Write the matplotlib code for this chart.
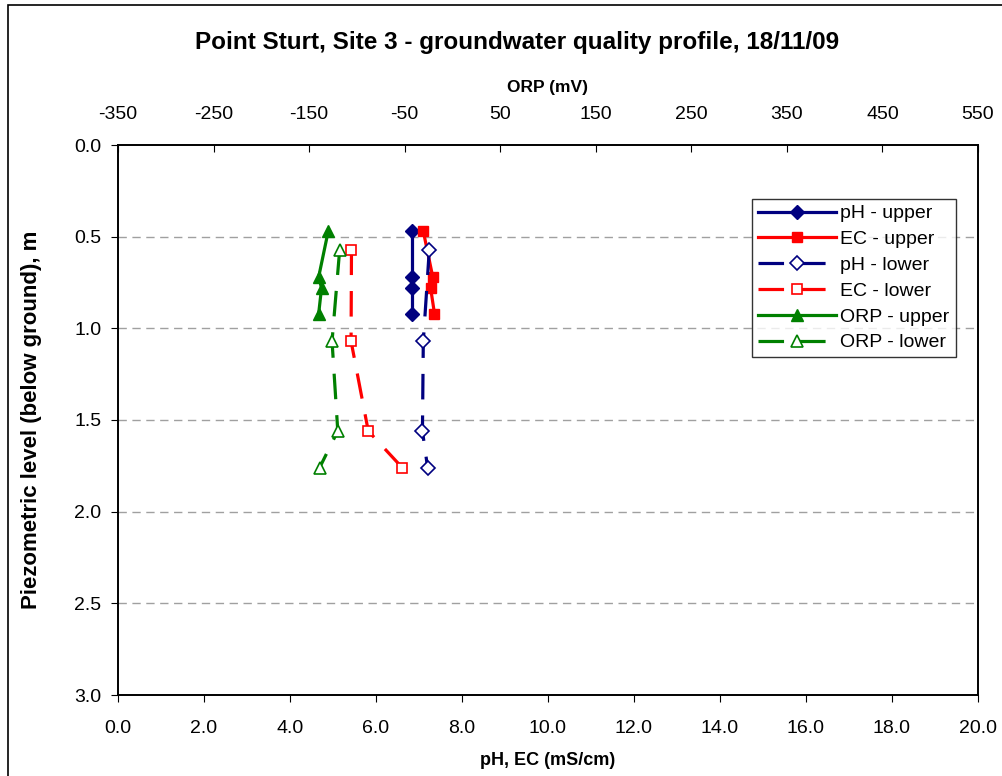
import matplotlib
matplotlib.use("Agg")
import matplotlib.pyplot as plt
from matplotlib.patches import Rectangle

plt.rcParams['font.family'] = ['Liberation Sans', 'DejaVu Sans']

# Data
depth_upper = [0.47, 0.72, 0.78, 0.92]
depth_lower = [0.57, 1.07, 1.56, 1.76]
ph_upper = [6.84, 6.84, 6.84, 6.84]
ec_upper = [7.10, 7.32, 7.27, 7.36]
orp_upper = [-130, -140, -137, -140]
ph_lower = [7.24, 7.10, 7.08, 7.20]
ec_lower = [5.43, 5.42, 5.82, 6.61]
orp_lower = [-118, -126, -120, -139]

x_ticks = [0, 2, 4, 6, 8, 10, 12, 14, 16, 18, 20]
orp_ticks = [-350, -250, -150, -50, 50, 150, 250, 350, 450, 550]
y_ticks = [0.0, 0.5, 1.0, 1.5, 2.0, 2.5, 3.0]

navy = '#000080'
red = '#FF0000'
green = '#008000'

fig = plt.figure(figsize=(10.03, 7.76), dpi=100)
fig.patches.append(Rectangle((8/1003, -0.1), 1.2, 1 - 5/776 + 0.1, transform=fig.transFigure,
                             fill=False, edgecolor='black', linewidth=1.2))

ax = fig.add_axes([118/1003, 1 - 695/776, (978 - 118)/1003, (695 - 145)/776])
ax2 = ax.twiny()

lw = 2.3
ms = 7
dash = (0, (8, 5))
l1, = ax.plot(ph_upper, depth_upper, color=navy, lw=lw, marker='D', ms=ms, mfc=navy, mec=navy, label='pH - upper')
l2, = ax.plot(ec_upper, depth_upper, color=red, lw=lw, marker='s', ms=ms, mfc=red, mec=red, label='EC - upper')
l3, = ax.plot(ph_lower, depth_lower, color=navy, lw=lw, ls=dash, marker='D', ms=ms, mfc='white', mec=navy, mew=1.2, label='pH - lower')
l4, = ax.plot(ec_lower, depth_lower, color=red, lw=lw, ls=dash, marker='s', ms=ms, mfc='white', mec=red, mew=1.2, label='EC - lower')
l5, = ax2.plot(orp_upper, depth_upper, color=green, lw=lw, marker='^', ms=ms + 1.5, mfc=green, mec=green, label='ORP - upper')
l6, = ax2.plot(orp_lower, depth_lower, color=green, lw=lw, ls=dash, marker='^', ms=ms + 1.5, mfc='white', mec=green, mew=1.2, label='ORP - lower')

ax.set_xlim(0, 20)
ax.set_ylim(3.0, 0.0)
ax2.set_xlim(-350, 550)
ax.set_xticks(x_ticks)
ax.set_xticklabels([f'{v:.1f}' for v in x_ticks])
ax.set_yticks(y_ticks)
ax.set_yticklabels([f'{v:.1f}' for v in y_ticks])
ax2.set_xticks(orp_ticks)
ax2.set_xticklabels([str(v) for v in orp_ticks])

for yv in y_ticks[1:-1]:
    ax.axhline(yv, color='#A0A0A0', lw=1, ls=(0, (6, 4)), zorder=0)

ax.tick_params(axis='x', direction='out', length=5, labelsize=14, pad=13)
ax.tick_params(axis='y', direction='out', length=5, labelsize=14, pad=7)
ax2.tick_params(axis='x', direction='in', length=5, labelsize=14, pad=16)

for a in (ax, ax2):
    for s in a.spines.values():
        s.set_linewidth(1.2)
        s.set_color('#000000')

ax.set_xlabel('pH, EC (mS/cm)', fontsize=13, fontweight='bold', labelpad=11)
ax.set_ylabel('Piezometric level (below ground), m', fontsize=16, fontweight='bold', labelpad=23)
ax2.set_xlabel('ORP (mV)', fontsize=12.5, fontweight='bold', labelpad=10)

fig.text(517/1003, 1 - 43/776, 'Point Sturt, Site 3 - groundwater quality profile, 18/11/09',
         ha='center', va='center', fontsize=17.5, fontweight='bold')

leg = ax2.legend(handles=[l1, l2, l3, l4, l5, l6], loc='upper left',
                 bbox_to_anchor=((752 - 118)/860, 1 - (199 - 145)/550),
                 frameon=True, fancybox=False, edgecolor='black', fontsize=14,
                 handlelength=4.0, borderpad=0.3, labelspacing=0.42, handletextpad=0.25,
                 borderaxespad=0)
leg.get_frame().set_linewidth(1.0)

fig.savefig('out.png', dpi=100)
